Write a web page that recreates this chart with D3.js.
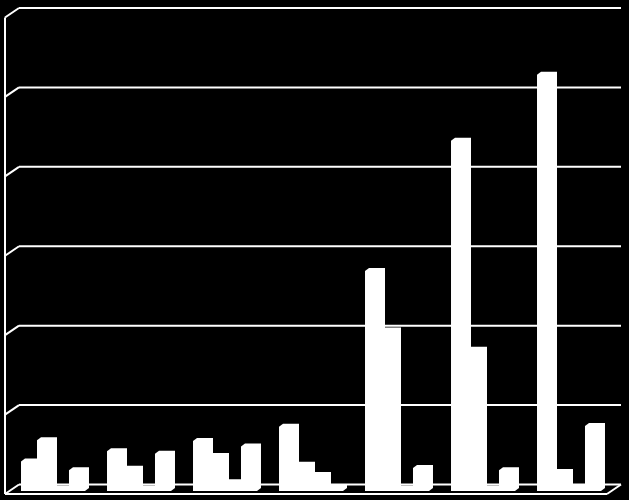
<!DOCTYPE html>
<html>
<head>
<meta charset="utf-8">
<script src="https://cdn.jsdelivr.net/npm/d3@7"></script>
<style>
  html, body { margin: 0; padding: 0; background: #000; }
  svg { display: block; }
</style>
</head>
<body>
<svg id="chart" width="629" height="500"></svg>
<script>
// ---- data ----
const categories = ["A", "B", "C", "D", "E", "F", "G"];
const seriesNames = ["Series 1", "Series 2", "Series 3", "Series 4"];
const series1 = [3.7, 5.0, 6.3, 8.1, 27.7, 44.1, 52.4];
const series2 = [6.4, 2.8, 4.4, 3.3, 20.2, 17.8, 2.4];
const series3 = [0.3, 0.3, 1.1, 2.0, 0.3, 0.3, 0.5];
const series4 = [2.6, 4.7, 5.6, 0.4, 2.9, 2.6, 8.2];
const yTicks = [0, 10, 20, 30, 40, 50, 60];

const allSeries = [series1, series2, series3, series4];

// ---- geometry ----
const W = 629, H = 500;
const frontX0 = 5, frontX1 = 607, frontY = 494;   // front floor edge
const depthDX = 14, depthDY = 9.5;                // wall depth offset
const backY0 = frontY - depthDY;                  // back floor line
const topY = 8;
const barBaseY = 491;                             // bar front-face zero level
const barDX = 4, barDY = 3;                       // bar top/side offset

const svg = d3.select("#chart");
svg.append("rect").attr("width", W).attr("height", H).attr("fill", "#000");

const yGrid = d3.scaleLinear().domain([0, 60]).range([backY0, topY]);
const yBar = d3.scaleLinear().domain([0, 60]).range([barBaseY, barBaseY - (backY0 - topY)]);

const x0 = d3.scaleBand().domain(categories)
  .range([frontX0 + 5, frontX1 + 5])
  .paddingInner(0.256).paddingOuter(0.128);
const x1 = d3.scaleBand().domain(seriesNames).range([0, x0.bandwidth()]);

const stroke = "#fff", sw = 2;

// back wall gridlines + side wall diagonals
const g = svg.append("g");
yTicks.forEach(t => {
  const y = yGrid(t);
  g.append("line").attr("x1", frontX0 + depthDX).attr("x2", frontX1 + depthDX)
    .attr("y1", y).attr("y2", y).attr("stroke", stroke).attr("stroke-width", sw);
  g.append("line").attr("x1", frontX0).attr("y1", y + depthDY)
    .attr("x2", frontX0 + depthDX).attr("y2", y)
    .attr("stroke", stroke).attr("stroke-width", sw);
});

// floor outline
g.append("line").attr("x1", frontX0).attr("x2", frontX1).attr("y1", frontY).attr("y2", frontY)
  .attr("stroke", stroke).attr("stroke-width", sw);
g.append("line").attr("x1", frontX1).attr("y1", frontY)
  .attr("x2", frontX1 + depthDX).attr("y2", backY0)
  .attr("stroke", stroke).attr("stroke-width", sw);

// vertical axis (front edge of side wall)
g.append("line").attr("x1", frontX0).attr("x2", frontX0)
  .attr("y1", yGrid(60) + depthDY).attr("y2", frontY)
  .attr("stroke", stroke).attr("stroke-width", sw);

// bars
const bars = [];
categories.forEach((c, i) => {
  seriesNames.forEach((s, j) => {
    bars.push({ cat: c, ser: s, value: allSeries[j][i] });
  });
});

svg.append("g").selectAll("path").data(bars).join("path")
  .attr("fill", "#fff")
  .attr("d", d => {
    const xa = x0(d.cat) + x1(d.ser);
    const xb = xa + x1.bandwidth();
    const yb = yBar(0), yt = yBar(d.value);
    return `M${xa},${yb}L${xa},${yt}L${xa + barDX},${yt - barDY}L${xb + barDX},${yt - barDY}` +
           `L${xb + barDX},${yb - barDY}L${xb},${yb}Z`;
  });
</script>
</body>
</html>
